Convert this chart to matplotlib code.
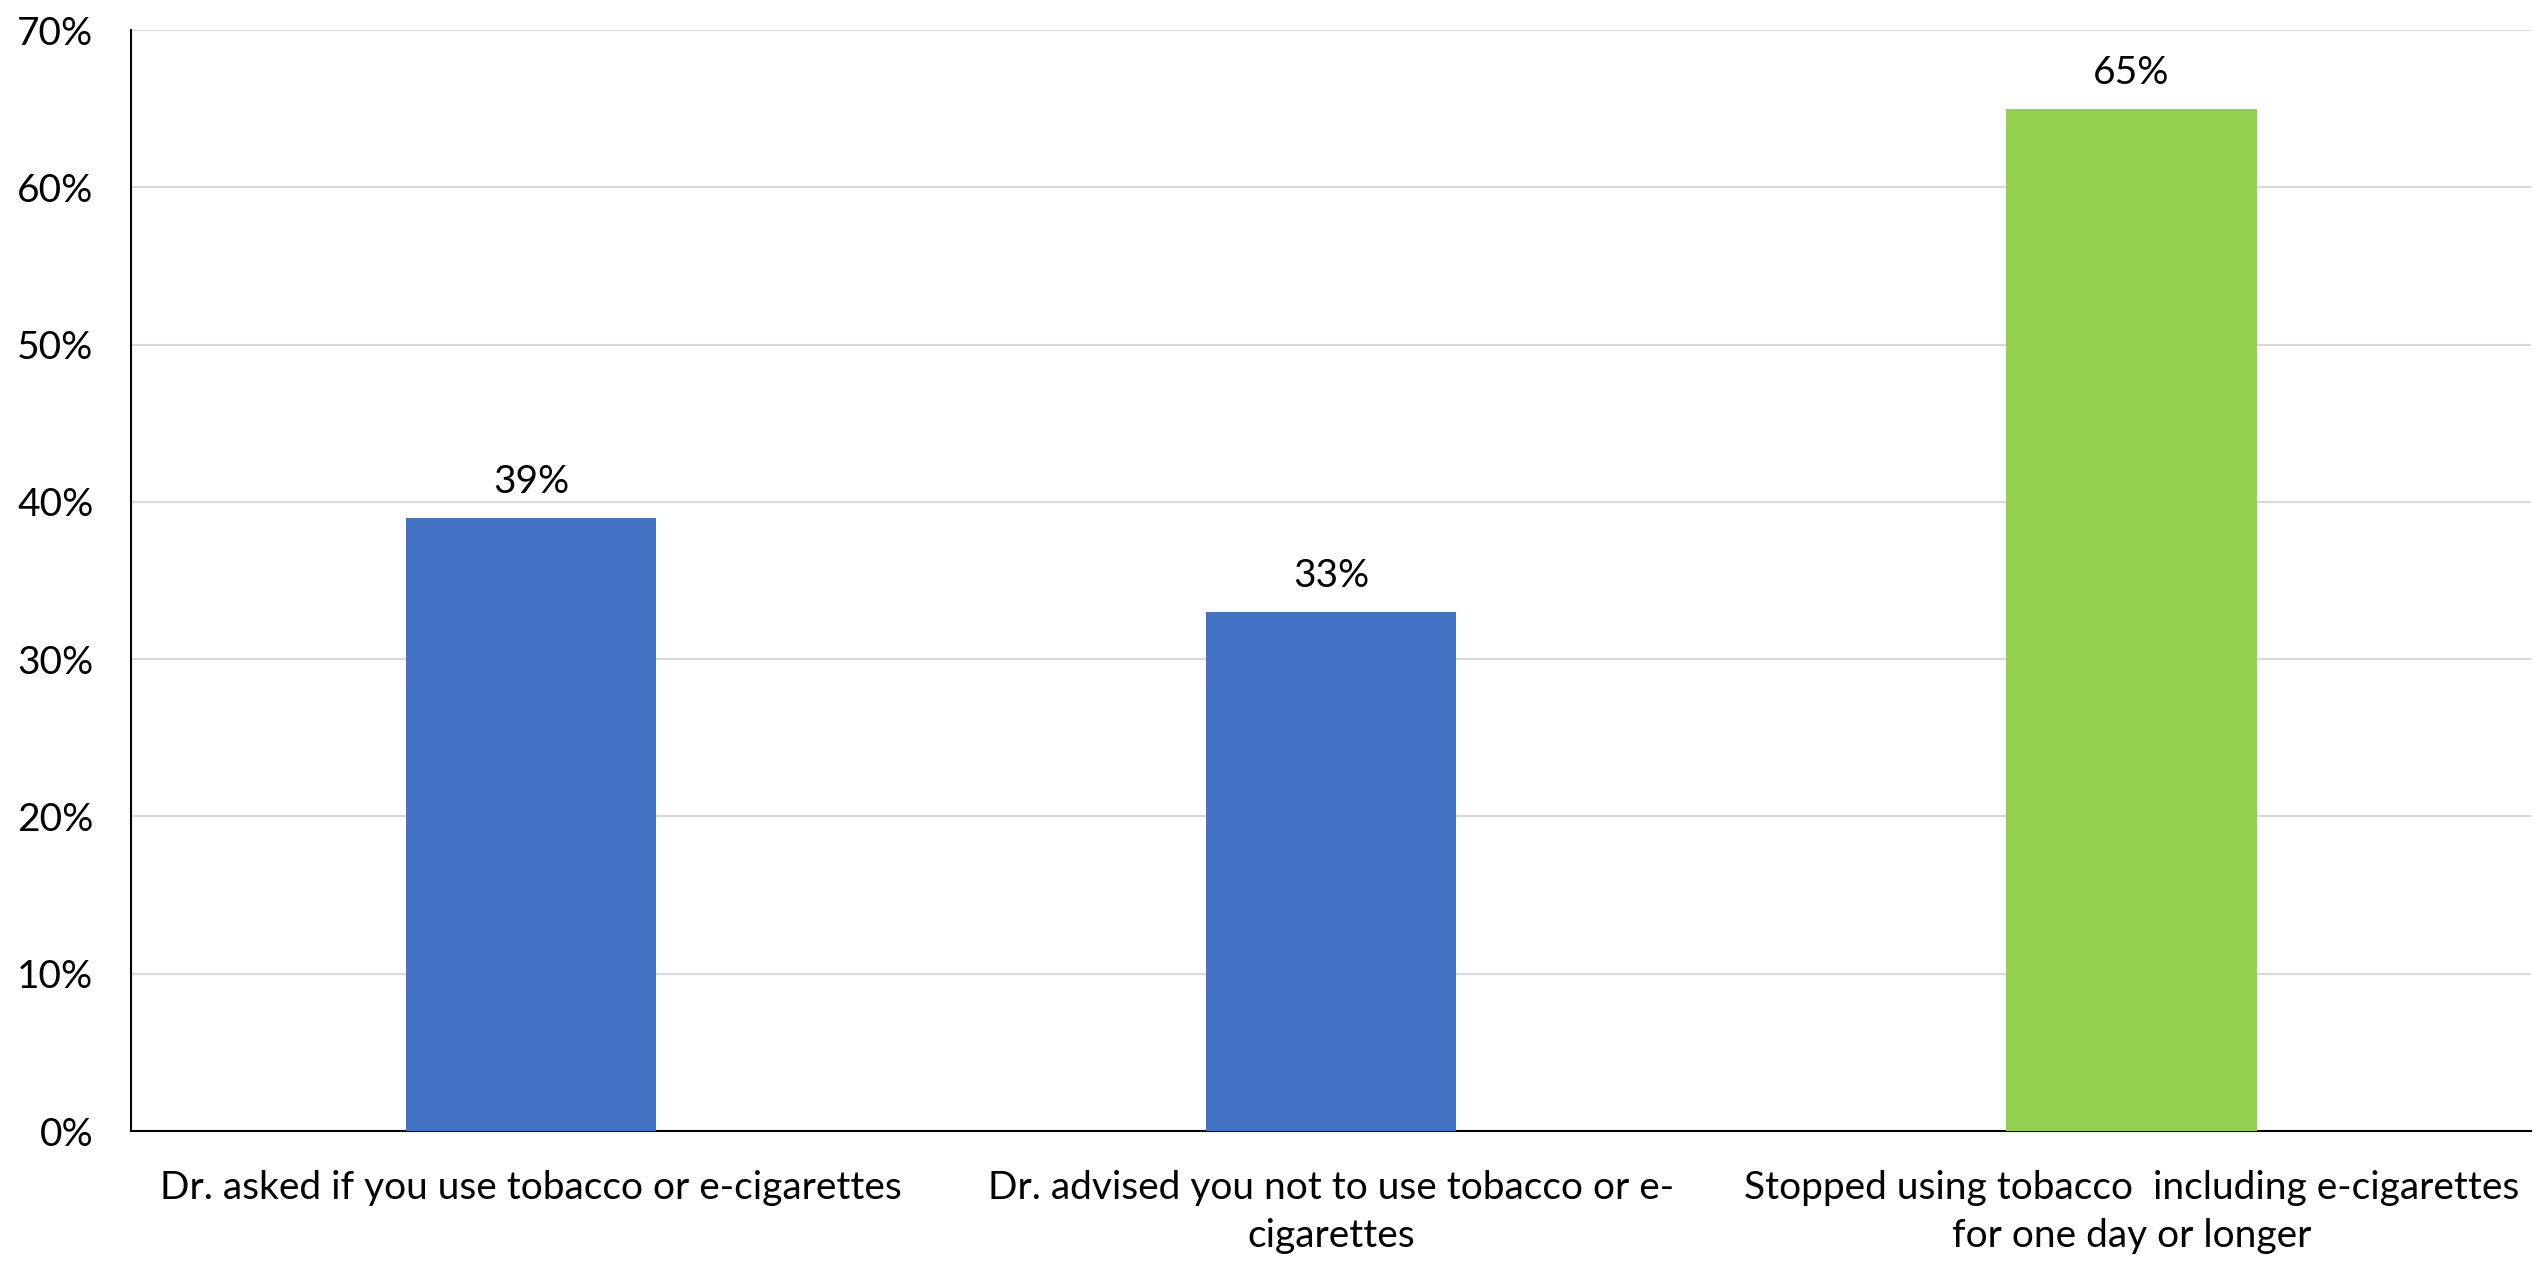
import matplotlib.pyplot as plt
import matplotlib.ticker as plticker
import numpy as np

categories = [
    "Dr. asked if you use tobacco or e-cigarettes",
    "Dr. advised you not to use tobacco or e-\ncigarettes",
    "Stopped using tobacco  including e-cigarettes\nfor one day or longer",
]
values = [39, 33, 65]
bar_colors = ["#4472C4", "#4472C4", "#92D050"]
y_ticks = [0, 10, 20, 30, 40, 50, 60, 70]

fontsize = 28
plt.rcParams.update({
    'font.family': ['Lato', 'DejaVu Sans'],
    'font.size': fontsize,
})

fig = plt.figure(figsize=(25.34, 12.67), dpi=100)
ax = fig.add_axes([0.0517, 0.1073, 0.9473, 0.869])

x = np.arange(len(categories))
bars = ax.bar(x, values, width=0.313, color=bar_colors, zorder=3)

for rect, v in zip(bars, values):
    ax.annotate("%d%%" % v, (rect.get_x() + rect.get_width() / 2, v),
                xytext=(0, 26), textcoords='offset points',
                ha='center', va='center', fontsize=fontsize)

ax.set_xlim(-0.5, len(categories) - 0.5)
ax.set_ylim(0, 70)
ax.set_yticks(y_ticks)
ax.yaxis.set_major_formatter(plticker.FuncFormatter(lambda v, p: "%d%%" % v))
ax.set_xticks(x)
ax.set_xticklabels(categories, linespacing=1.42)

ax.grid(True, axis='y', color='#D9D9D9', linewidth=1.5, zorder=0)
ax.set_axisbelow(True)
ax.tick_params(axis='both', length=0)
ax.tick_params(axis='y', pad=27)
ax.tick_params(axis='x', pad=28)

for side in ['top', 'right']:
    ax.spines[side].set_visible(False)
ax.spines['left'].set_color('black')
ax.spines['left'].set_linewidth(1.5)
ax.spines['bottom'].set_color('black')
ax.spines['bottom'].set_linewidth(1.5)

fig.savefig("out.png", dpi=100)
